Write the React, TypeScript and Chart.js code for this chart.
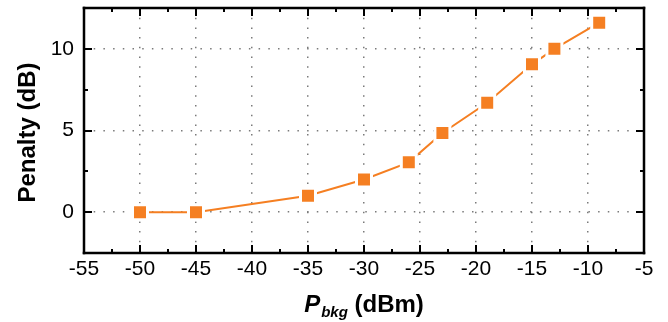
import React, { useEffect, useRef } from "react";
import { Chart, registerables } from "chart.js";

Chart.register(...registerables);

// ---- data ----
const P_BKG = [-50, -45, -35, -30, -26, -23, -19, -15, -13, -9];
const PENALTY = [0, 0, 1.0, 2.0, 3.05, 4.85, 6.7, 9.05, 10.0, 11.6];
const X_TICKS = [-55, -50, -45, -40, -35, -30, -25, -20, -15, -10, -5];
const Y_TICKS = [0, 5, 10];
const X_RANGE = [-55, -5];
const Y_RANGE = [-2.5, 12.5];

const FONT = "'Liberation Sans', Arial, Helvetica, sans-serif";
const ORANGE = "rgb(245,127,34)";

function midpoints(ticks: number[], lo: number, hi: number): number[] {
  const step = ticks.length > 1 ? ticks[1] - ticks[0] : 1;
  const out: number[] = [];
  const all = [ticks[0] - step, ...ticks, ticks[ticks.length - 1] + step];
  for (let i = 0; i < all.length - 1; i++) {
    const m = (all[i] + all[i + 1]) / 2;
    if (m > lo && m < hi) out.push(m);
  }
  return out;
}

const framePlugin = {
  id: "originFrame",
  afterDraw(chart: any) {
    const ctx: CanvasRenderingContext2D = chart.ctx;
    const a = chart.chartArea;
    const xs = chart.scales.x;
    const ys = chart.scales.y;
    const MAJ = 8;
    const MIN = 4;
    ctx.save();
    ctx.fillStyle = "#000000";
    const L = Math.round(a.left);
    const R = Math.round(a.right);
    const T = Math.round(a.top);
    const B = Math.round(a.bottom);
    // frame (about 2.5px thick)
    ctx.fillRect(L - 1.25, T - 1.25, R - L + 2.5, 2.5);
    ctx.fillRect(L - 1.25, B - 1.25, R - L + 2.5, 2.5);
    ctx.fillRect(L - 1.25, T - 1.25, 2.5, B - T + 2.5);
    ctx.fillRect(R - 1.25, T - 1.25, 2.5, B - T + 2.5);
    const xMinor = midpoints(X_TICKS, X_RANGE[0], X_RANGE[1]);
    const yMinor = midpoints(Y_TICKS, Y_RANGE[0], Y_RANGE[1]);
    const xTick = (v: number, len: number) => {
      const px = Math.round(xs.getPixelForValue(v));
      ctx.fillRect(px - 1, B - len, 2, len);
      ctx.fillRect(px - 1, T, 2, len);
    };
    const yTick = (v: number, len: number) => {
      const py = Math.round(ys.getPixelForValue(v));
      ctx.fillRect(L, py - 1, len, 2);
      ctx.fillRect(R - len, py - 1, len, 2);
    };
    X_TICKS.forEach((v) => xTick(v, MAJ));
    xMinor.forEach((v) => xTick(v, MIN));
    Y_TICKS.forEach((v) => yTick(v, MAJ));
    yMinor.forEach((v) => yTick(v, MIN));

    // x title: P_bkg (dBm)
    ctx.textBaseline = "alphabetic";
    ctx.textAlign = "left";
    const fP = `italic bold 24px ${FONT}`;
    const fSub = `italic bold 15px ${FONT}`;
    const fRest = `bold 24px ${FONT}`;
    ctx.font = fP;
    const wP = ctx.measureText("P").width;
    ctx.font = fSub;
    const wSub = ctx.measureText("bkg").width;
    ctx.font = fRest;
    const rest = " (dBm)";
    const wRest = ctx.measureText(rest).width;
    const total = wP + 1 + wSub + wRest;
    const cx = (a.left + a.right) / 2;
    let x0 = cx - total / 2;
    const by = a.bottom + 59;
    ctx.font = fP;
    ctx.fillText("P", x0, by);
    x0 += wP + 1;
    ctx.font = fSub;
    ctx.fillText("bkg", x0, by + 5);
    x0 += wSub;
    ctx.font = fRest;
    ctx.fillText(rest, x0, by);

    // y title
    ctx.save();
    ctx.translate(a.left - 49, (a.top + a.bottom) / 2 + 2);
    ctx.rotate(-Math.PI / 2);
    ctx.textAlign = "center";
    ctx.font = `bold 24px ${FONT}`;
    ctx.fillText("Penalty (dB)", 0, 0);
    ctx.restore();

    ctx.restore();
  },
};

export default function App() {
  const ref = useRef<HTMLCanvasElement | null>(null);
  useEffect(() => {
    document.body.style.margin = "0";
    if (!ref.current) return;
    const chart = new Chart(ref.current, {
      type: "line",
      data: {
        datasets: [
          {
            data: P_BKG.map((x, i) => ({ x, y: PENALTY[i] })),
            borderColor: ORANGE,
            borderWidth: 2,
            backgroundColor: ORANGE,
            pointStyle: "rect",
            pointRadius: 10.6,
            pointHoverRadius: 10.6,
            pointBackgroundColor: ORANGE,
            pointBorderColor: "#ffffff",
            pointBorderWidth: 3,
            fill: false,
            tension: 0,
            clip: false,
          },
        ],
      },
      options: {
        animation: false,
        responsive: true,
        maintainAspectRatio: false,
        layout: { autoPadding: false, padding: { top: 8, right: 24, left: 0, bottom: 0 } },
        plugins: { legend: { display: false }, tooltip: { enabled: false } },
        events: [],
        scales: {
          x: {
            type: "linear",
            min: X_RANGE[0],
            max: X_RANGE[1],
            afterBuildTicks: (s: any) => {
              s.ticks = X_TICKS.map((v) => ({ value: v }));
            },
            afterFit: (s: any) => {
              s.height = 69;
              s.paddingLeft = 0;
              s.paddingRight = 0;
            },
            ticks: {
              color: "#000",
              font: { family: FONT, size: 21 },
              padding: 4,
              maxRotation: 0,
              autoSkip: false,
            },
            grid: {
              color: "#7a7a7a",
              lineWidth: 1.5,
              drawTicks: false,
            },
            border: { display: false, dash: [1.5, 8.2] },
          },
          y: {
            type: "linear",
            min: Y_RANGE[0],
            max: Y_RANGE[1],
            afterBuildTicks: (s: any) => {
              s.ticks = Y_TICKS.map((v) => ({ value: v }));
            },
            afterFit: (s: any) => {
              s.width = 84;
              s.paddingTop = 0;
              s.paddingBottom = 0;
            },
            ticks: {
              color: "#000",
              font: { family: FONT, size: 21 },
              padding: 10,
              autoSkip: false,
            },
            grid: {
              color: "#7a7a7a",
              lineWidth: 1.5,
              drawTicks: false,
            },
            border: { display: false, dash: [1.5, 8.2] },
          },
        },
      },
      plugins: [framePlugin],
    });
    return () => chart.destroy();
  }, []);
  return (
    <div style={{ width: 668, height: 322, position: "relative", background: "#fff" }}>
      <canvas ref={ref} />
    </div>
  );
}
